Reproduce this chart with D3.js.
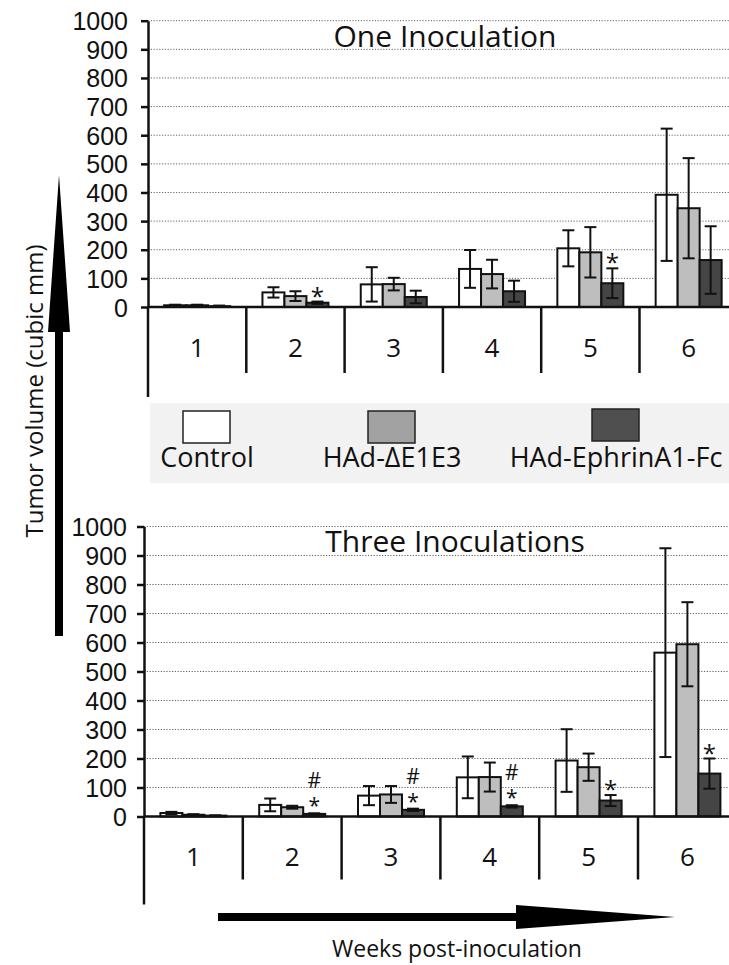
<!DOCTYPE html>
<meta charset="utf-8">
<style>
body { margin: 0; background: #fff; }
svg text { font-family: "Open Sans", sans-serif; fill: #111; }
.stack { writing-mode: vertical-lr; text-orientation: upright; }
</style>
<body>
<svg width="729" height="965"></svg>
<script src="https://d3js.org/d3.v7.min.js"></script>
<script>

// data (tumor volume, cubic mm; mean and error)
var weeks = ["1", "2", "3", "4", "5", "6"];
var groups = ["Control", "HAd-\u0394E1E3", "HAd-EphrinA1-Fc"];
var yTicks = [0, 100, 200, 300, 400, 500, 600, 700, 800, 900, 1000];

var oneControl    = [6, 51, 79, 133, 205, 392];
var oneControlErr = [2, 18, 60, 66, 63, 231];
var oneDelta      = [6, 38, 80, 115, 191, 345];
var oneDeltaErr   = [2, 17, 22, 50, 88, 175];
var oneEphrin     = [3, 15, 35, 55, 83, 164];
var oneEphrinErr  = [2, 4, 22, 37, 52, 118];
var oneMarks      = ["", "*", "", "", "*", ""];

var threeControl    = [12, 40, 72, 135, 193, 565];
var threeControlErr = [4, 22, 33, 72, 108, 360];
var threeDelta      = [6, 32, 76, 136, 170, 594];
var threeDeltaErr   = [2, 5, 29, 50, 47, 145];
var threeEphrin     = [3, 9, 23, 35, 55, 148];
var threeEphrinErr  = [1, 2, 4, 4, 19, 52];
var threeMarks      = ["", "#*", "#*", "#*", "*", "*"];

var barColors = ["#ffffff", "#bebebe", "#454545"];
var swatchColors = ["#ffffff", "#a2a2a2", "#4f4f4f"];

var svg = d3.select("svg"),
    width = +svg.attr("width");

function panel(p) {
  var g = svg.append("g");
  var y = d3.scaleLinear().domain([0, 1000]).range([p.yBase, p.yTop]);
  var x0 = d3.scaleBand().domain(weeks).range([p.left, p.left + 6 * p.step]);
  var cw = x0.bandwidth();
  var x1 = d3.scaleBand().domain(groups).range([cw / 2 - 33, cw / 2 + 33]);

  // dotted gridlines
  g.selectAll(".grid")
    .data(yTicks.slice(1))
    .enter().append("line")
      .attr("x1", p.left).attr("x2", width)
      .attr("y1", function(d) { return y(d); })
      .attr("y2", function(d) { return y(d); })
      .attr("stroke", "#666")
      .attr("stroke-width", 1)
      .attr("stroke-dasharray", "1.2,1.6");

  // title
  g.append("text")
      .attr("x", p.titleX).attr("y", p.titleY)
      .attr("text-anchor", "middle")
      .style("font-size", "30px")
      .text(p.title);

  // bars
  var series = [
    {m: p.control, e: p.controlErr},
    {m: p.delta, e: p.deltaErr},
    {m: p.ephrin, e: p.ephrinErr}
  ];
  series.forEach(function(s, gi) {
    var rows = weeks.map(function(w, i) { return {w: w, m: s.m[i], e: s.e[i]}; });
    var bx = function(d) { return x0(d.w) + x1(groups[gi]); };
    g.selectAll(".bar" + gi)
      .data(rows)
      .enter().append("rect")
        .attr("x", bx)
        .attr("y", function(d) { return y(d.m); })
        .attr("width", x1.bandwidth())
        .attr("height", function(d) { return y(0) - y(d.m); })
        .attr("fill", barColors[gi])
        .attr("stroke", "#111")
        .attr("stroke-width", 2);

    var eb = g.selectAll(".err" + gi)
      .data(rows)
      .enter().append("g")
        .attr("stroke", "#111")
        .attr("stroke-width", 2);
    var cx = function(d) { return bx(d) + x1.bandwidth() / 2; };
    eb.append("line")
        .attr("x1", cx).attr("x2", cx)
        .attr("y1", function(d) { return y(Math.max(0, d.m - d.e)); })
        .attr("y2", function(d) { return y(d.m + d.e); });
    eb.append("line")
        .attr("x1", function(d) { return cx(d) - 6; })
        .attr("x2", function(d) { return cx(d) + 6; })
        .attr("y1", function(d) { return y(d.m + d.e); })
        .attr("y2", function(d) { return y(d.m + d.e); });
    eb.append("line")
        .attr("x1", function(d) { return cx(d) - 6; })
        .attr("x2", function(d) { return cx(d) + 6; })
        .attr("y1", function(d) { return y(Math.max(0, d.m - d.e)); })
        .attr("y2", function(d) { return y(Math.max(0, d.m - d.e)); });
  });

  // significance marks above the EphrinA1-Fc bars (# stacked over *)
  weeks.forEach(function(w, i) {
    var m = p.marks[i];
    if (!m) return;
    var cx = x0(w) + x1(groups[2]) + x1.bandwidth() / 2;
    var top = y(p.ephrin[i] + p.ephrinErr[i]);
    if (m.length > 1) {
      g.append("text")
          .attr("class", "stack")
          .attr("x", cx).attr("y", top - 47)
          .style("font-size", "21px")
          .style("letter-spacing", "-3px")
          .text(m);
    } else {
      g.append("text")
          .attr("text-anchor", "middle")
          .attr("x", cx).attr("y", top + 3)
          .style("font-size", "24px")
          .text("*");
    }
  });

  // y axis
  var ax = g.append("g")
      .attr("transform", "translate(" + p.left + ",0)")
      .call(d3.axisLeft(y).tickValues(yTicks).tickFormat(d3.format("d"))
        .tickSize(7).tickSizeOuter(0).tickPadding(p.pad));
  ax.select(".domain").attr("stroke", "#111").attr("stroke-width", 2.5);
  ax.selectAll(".tick line").attr("stroke", "#111").attr("stroke-width", 2.5);
  ax.selectAll(".tick text")
      .style("font-family", "'Liberation Sans', sans-serif")
      .style("font-size", "25px")
      .attr("fill", "#111")
      .attr("dy", "0.36em");

  // x axis line, category dividers and labels
  g.append("line")
      .attr("x1", p.left).attr("x2", width)
      .attr("y1", y(0)).attr("y2", y(0))
      .attr("stroke", "#111").attr("stroke-width", 2.5);
  g.append("line")
      .attr("x1", p.left).attr("x2", p.left)
      .attr("y1", y(0)).attr("y2", y(0) + p.stub)
      .attr("stroke", "#111").attr("stroke-width", 2.5);
  g.selectAll(".div")
    .data(weeks.slice(1))
    .enter().append("line")
      .attr("x1", function(d) { return x0(d); })
      .attr("x2", function(d) { return x0(d); })
      .attr("y1", y(0)).attr("y2", y(0) + p.divLen)
      .attr("stroke", "#111").attr("stroke-width", 2.5);
  g.selectAll(".wk")
    .data(weeks)
    .enter().append("text")
      .attr("x", function(d) { return x0(d) + cw / 2; })
      .attr("y", y(0) + p.labelDy)
      .attr("text-anchor", "middle")
      .style("font-size", "26px")
      .text(function(d) { return d; });
}

panel({
  title: "One Inoculation", titleX: 445, titleY: 47,
  left: 148, step: 98.3, yBase: 307, yTop: 20.7, pad: 13,
  stub: 90, divLen: 66, labelDy: 50,
  control: oneControl, controlErr: oneControlErr,
  delta: oneDelta, deltaErr: oneDeltaErr,
  ephrin: oneEphrin, ephrinErr: oneEphrinErr,
  marks: oneMarks
});

panel({
  title: "Three Inoculations", titleX: 455, titleY: 552,
  left: 144, step: 98.8, yBase: 816.5, yTop: 526.5, pad: 10,
  stub: 88, divLen: 63, labelDy: 49,
  control: threeControl, controlErr: threeControlErr,
  delta: threeDelta, deltaErr: threeDeltaErr,
  ephrin: threeEphrin, ephrinErr: threeEphrinErr,
  marks: threeMarks
});

// legend
var legendX = [207, 392, 616];
var lg = svg.append("g");
lg.append("rect")
    .attr("x", 150).attr("y", 403)
    .attr("width", width - 150).attr("height", 80)
    .attr("fill", "#f2f2f2");
groups.forEach(function(name, i) {
  lg.append("rect")
      .attr("x", legendX[i] - 24).attr("y", i === 2 ? 409 : 411)
      .attr("width", 47).attr("height", 32)
      .attr("fill", swatchColors[i])
      .attr("stroke", "#222").attr("stroke-width", 1.5);
  lg.append("text")
      .attr("x", legendX[i]).attr("y", 467)
      .attr("text-anchor", "middle")
      .style("font-size", "27px")
      .text(name);
});

// y axis title with arrow
svg.append("path")
    .attr("d", "M55,636 L55,332 L48,332 L59,175 L70,332 L63,332 L63,636 Z")
    .attr("fill", "#000");
svg.append("text")
    .attr("transform", "translate(35,391) rotate(-90)")
    .attr("dy", "0.35em")
    .attr("text-anchor", "middle")
    .style("font-size", "24px")
    .text("Tumor volume (cubic mm)");

// x axis title with arrow
svg.append("path")
    .attr("d", "M218,913 L516,913 L516,905 L675,917 L516,929 L516,921 L218,921 Z")
    .attr("fill", "#000");
svg.append("text")
    .attr("x", 457).attr("y", 957)
    .attr("text-anchor", "middle")
    .style("font-size", "23px")
    .text("Weeks post-inoculation");

</script>
</body>
